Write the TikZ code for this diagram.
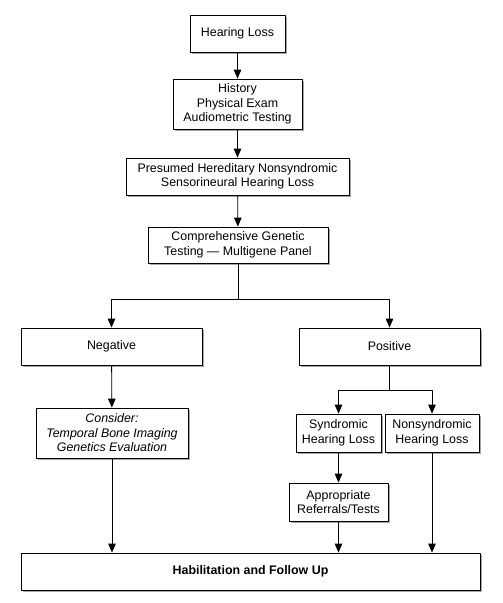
\documentclass[tikz,border=0pt]{standalone}
\usepackage{fontspec}
\setmainfont{Liberation Sans}
\usetikzlibrary{arrows.meta,shadows}
\tikzset{
  box/.style={draw,line width=0.8pt,fill=white,align=center,inner sep=2pt,
    drop shadow={shadow xshift=1.5pt,shadow yshift=-1.8pt,fill=black!50,opacity=0.7}},
  arr/.style={-{Triangle[length=9pt,width=7.5pt]},line width=0.8pt},
}
\begin{document}
\begin{tikzpicture}[x=1pt,y=-1pt,font=\fontsize{12.4}{14.5}\selectfont,line join=round]
		\useasboundingbox (0,0) rectangle (503,603);
		\node[box,minimum width=95pt,minimum height=37pt] (hl) at (237.5,33.5) {Hearing Loss};
		\node[box,minimum width=129pt,minimum height=50pt] (hist) at (237.5,104) {History\\Physical Exam\\Audiometric Testing};
		\node[box,minimum width=223pt,minimum height=37pt] (pres) at (237.5,176.5) {Presumed Hereditary Nonsyndromic\\Sensorineural Hearing Loss};
		\node[box,minimum width=180pt,minimum height=36pt] (comp) at (238,245) {Comprehensive Genetic\\Testing --- Multigene Panel};
		\node[box,minimum width=181pt,minimum height=37pt] (neg) at (111.5,346.5) {Negative};
		\node[box,minimum width=181pt,minimum height=37pt] (pos) at (389.5,346.5) {Positive};
		\node[box,minimum width=152pt,minimum height=50pt,font=\fontsize{12.4}{14.5}\selectfont\itshape] (cons) at (112,433) {Consider:\\Temporal Bone Imaging\\Genetics Evaluation};
		\node[box,minimum width=85pt,minimum height=38pt] (syn) at (338.5,433) {Syndromic\\Hearing Loss};
		\node[box,minimum width=94pt,minimum height=38pt] (non) at (432,433) {Nonsyndromic\\Hearing Loss};
		\node[box,minimum width=99pt,minimum height=38pt] (app) at (338.5,502) {Appropriate\\Referrals/Tests};
		\node[box,minimum width=459pt,minimum height=37pt,font=\fontsize{12.4}{14.5}\selectfont\bfseries] (hab) at (250.5,571.5) {Habilitation and Follow Up};
		\coordinate (split) at (238,299);
		\coordinate (split2) at (389.5,390);
		\draw[arr](hl)--(hist);
		\draw[arr](hist)--(pres);
		\draw[arr](pres)--(comp);
		\draw[line width=0.8pt](comp)--(split);
		\draw[arr](split)-|(neg);
		\draw[arr](split)-|(pos);
		\draw[line width=0.8pt](pos)--(split2);
		\draw[arr](split2)-|(syn);
		\draw[arr](split2)-|(non);
		\draw[arr](neg)--(cons);
		\draw[arr](syn)--(app);
		\foreach \n in {cons,app,non}\draw[arr](\n.south)--(\n.south|-hab.north);
		\end{tikzpicture}
\end{document}
